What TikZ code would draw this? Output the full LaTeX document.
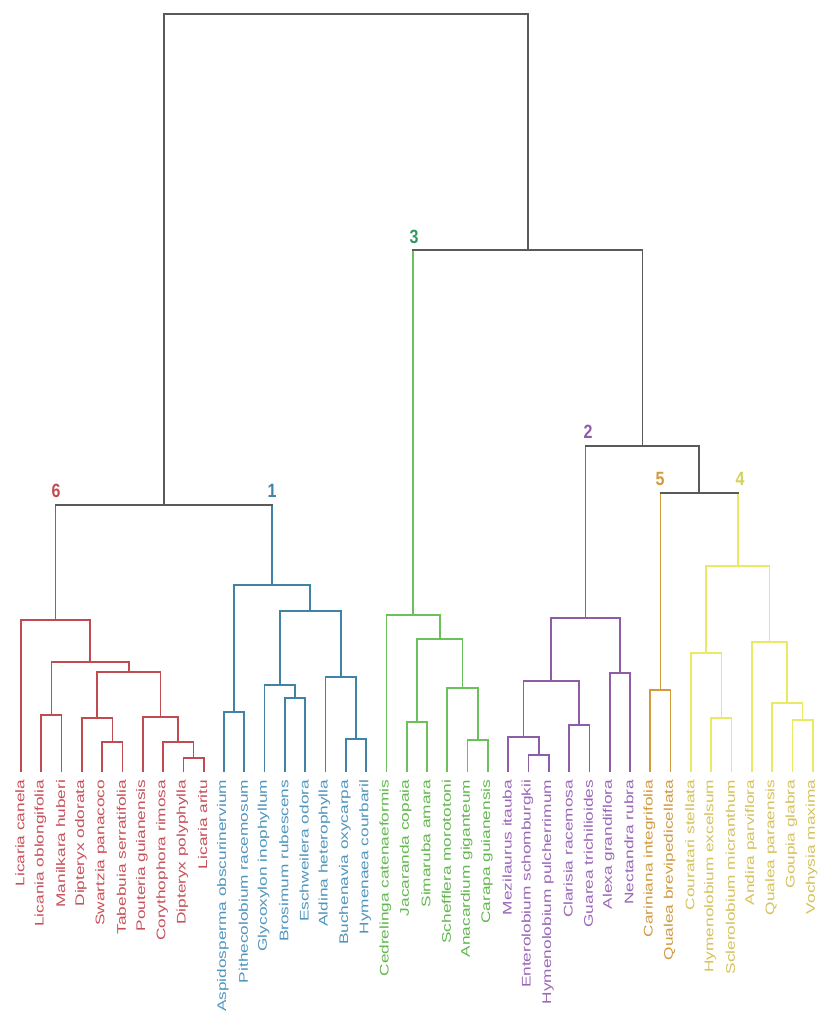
\documentclass[tikz,border=0pt]{standalone}
\usepackage{fontspec}
\setmainfont{Liberation Sans}
\usetikzlibrary{calc}
\definecolor{cred}{HTML}{C24B52}
\definecolor{cblue}{HTML}{3F84A6}
\definecolor{cgreen}{HTML}{6CC05A}
\definecolor{cgreendark}{HTML}{2F9A5E}
\definecolor{cpurple}{HTML}{8E5DA8}
\definecolor{corange}{HTML}{D39A3E}
\definecolor{cyellow}{HTML}{E9E963}
\definecolor{cgray}{HTML}{5A5A5A}
\definecolor{tred}{HTML}{C8505A}
\definecolor{tblue}{HTML}{4F96BE}
\definecolor{tgreen}{HTML}{62B84E}
\definecolor{tpurple}{HTML}{9A66B8}
\definecolor{torange}{HTML}{D09A40}
\definecolor{tyellow}{HTML}{D6C25A}
\newcommand\mrg[5]{%
  \path ($(#2)!0.5!(#3)$) coordinate (#1t);
  \coordinate (#1) at (#1t |- 0,#4);
  \draw[#5] (#2) |- (#1) -| (#3);}
\newcommand\xmrg[6]{%
  \path ($(#2)!0.5!(#3)$) coordinate (#1t);
  \coordinate (#1) at (#1t |- 0,#4);
  \draw[#5] (#2) -- (#2 |- #1);
  \draw[#6] (#3) -- (#3 |- #1);
  \draw[cgray] (#2 |- #1) -- (#3 |- #1);}
\begin{document}
\begin{tikzpicture}[x=1pt,y=-1pt,line width=1.7pt,line cap=rect,
  leaflabel/.style={rotate=90,anchor=east,inner sep=0pt,font=\fontsize{12.5}{13}\selectfont},
  clab/.style={inner sep=0pt,font=\fontsize{16}{16}\selectfont\bfseries}]
\useasboundingbox (0,0) rectangle (817,1017);
\fill[white] (0,0) rectangle (817,1017);
\foreach \t/\c [count=\i from 0] in {
  Licaria canela/tred, Licania oblongifolia/tred, Manilkara huberi/tred,
  Dipteryx odorata/tred, Swartzia panacoco/tred, Tabebuia serratifolia/tred,
  Pouteria guianensis/tred, Corythophora rimosa/tred, Dipteryx polyphylla/tred,
  Licaria aritu/tred,
  Aspidosperma obscurinervium/tblue, Pithecolobium racemosum/tblue,
  Glycoxylon inophyllum/tblue, Brosimum rubescens/tblue, Eschweilera odora/tblue,
  Aldina heterophylla/tblue, Buchenavia oxycarpa/tblue, Hymenaea courbaril/tblue,
  Cedrelinga catenaeformis/tgreen, Jacaranda copaia/tgreen, Simaruba amara/tgreen,
  Schefflera morototoni/tgreen, Anacardium giganteum/tgreen, Carapa guianensis/tgreen,
  Mezilaurus itauba/tpurple, Enterolobium schomburgkii/tpurple,
  Hymenolobium pulcherrimum/tpurple, Clarisia racemosa/tpurple,
  Guarea trichilioides/tpurple, Alexa grandiflora/tpurple, Nectandra rubra/tpurple,
  Cariniana integrifolia/torange, Qualea brevipedicellata/torange,
  Couratari stellata/tyellow, Hymenolobium excelsum/tyellow,
  Sclerolobium micranthum/tyellow, Andira parviflora/tyellow,
  Qualea paraensis/tyellow, Goupia glabra/tyellow, Vochysia maxima/tyellow}{
  \coordinate (L\i) at ({21+20.3*\i},771);
  \node[leaflabel,text=\c] (T\i) at ({20+20.3*\i},779) {\scalebox{1.38}[1]{\t}};
}
% cluster 6 (red)
\mrg{r89}{L8}{L9}{758}{cred}
\mrg{r7}{L7}{r89}{742}{cred}
\mrg{r6}{L6}{r7}{717}{cred}
\mrg{r45}{L4}{L5}{742}{cred}
\mrg{r3}{L3}{r45}{718}{cred}
\mrg{r39}{r3}{r6}{672}{cred}
\mrg{r12}{L1}{L2}{715}{cred}
\mrg{r19}{r12}{r39}{662}{cred}
\mrg{cA}{L0}{r19}{620}{cred}
% cluster 1 (blue)
\mrg{b1011}{L10}{L11}{712}{cblue}
\mrg{b1314}{L13}{L14}{698}{cblue}
\mrg{b12}{L12}{b1314}{685}{cblue}
\mrg{b1617}{L16}{L17}{739}{cblue}
\mrg{b15}{L15}{b1617}{677}{cblue}
\mrg{b1217}{b12}{b15}{611}{cblue}
\mrg{cB}{b1011}{b1217}{585}{cblue}
% cluster 3 (green)
\mrg{g2223}{L22}{L23}{740}{cgreen}
\mrg{g21}{L21}{g2223}{688}{cgreen}
\mrg{g1920}{L19}{L20}{722}{cgreen}
\mrg{g1923}{g1920}{g21}{639}{cgreen}
\mrg{cC}{L18}{g1923}{615}{cgreen}
% cluster 2 (purple)
\mrg{p2526}{L25}{L26}{755}{cpurple}
\mrg{p24}{L24}{p2526}{737}{cpurple}
\mrg{p2728}{L27}{L28}{725}{cpurple}
\mrg{p2428}{p24}{p2728}{681}{cpurple}
\mrg{p2930}{L29}{L30}{673}{cpurple}
\mrg{cD}{p2428}{p2930}{618}{cpurple}
% cluster 5 (orange)
\mrg{cE}{L31}{L32}{690}{corange}
% cluster 4 (yellow)
\mrg{y3435}{L34}{L35}{718}{cyellow}
\mrg{y33}{L33}{y3435}{653}{cyellow}
\mrg{y3839}{L38}{L39}{720}{cyellow}
\mrg{y37}{L37}{y3839}{703}{cyellow}
\mrg{y36}{L36}{y37}{642}{cyellow}
\mrg{cF}{y33}{y36}{566}{cyellow}
% upper levels
\xmrg{t61}{cA}{cB}{505}{cred}{cblue}
\xmrg{t54}{cE}{cF}{493}{corange}{cyellow}
\xmrg{t2}{cD}{t54}{446}{cpurple}{cgray}
\xmrg{t3}{cC}{t2}{250}{cgreen}{cgray}
\xmrg{root}{t61}{t3}{14}{cgray}{cgray}
% cluster numbers
\node[clab,text=cred] (n6) at (56,491) {\scalebox{1}[1.2]{6}};
\node[clab,text=cblue] (n1) at (272,491) {\scalebox{1}[1.2]{1}};
\node[clab,text=cgreendark] (n3) at (414,237) {\scalebox{1}[1.2]{3}};
\node[clab,text=cpurple] (n2) at (588,432) {\scalebox{1}[1.2]{2}};
\node[clab,text=corange] (n5) at (660,479) {\scalebox{1}[1.2]{5}};
\node[clab,text=cyellow!90!black] (n4) at (740,479) {\scalebox{1}[1.2]{4}};
\end{tikzpicture}
\end{document}
